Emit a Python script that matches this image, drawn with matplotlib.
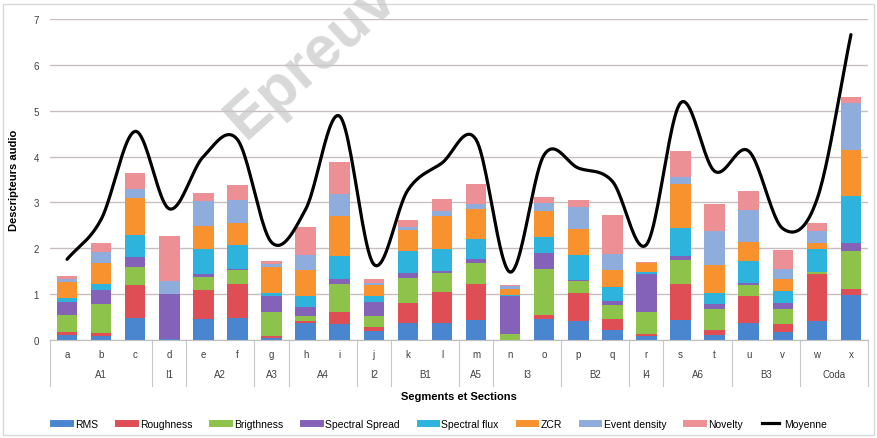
import numpy as np
import matplotlib
matplotlib.use('Agg')
import matplotlib.pyplot as plt
from matplotlib.lines import Line2D
from matplotlib.patches import Rectangle

plt.rcParams['font.family'] = ['Liberation Sans Narrow', 'Liberation Sans', 'DejaVu Sans']

segments = list('abcdefghijklmnopqrstuvwx')
sections = ['A1', 'I1', 'A2', 'A3', 'A4', 'I2', 'B1', 'A5', 'I3', 'B2', 'I4', 'A6', 'B3', 'Coda']
section_sizes = [3, 1, 2, 1, 2, 1, 2, 1, 2, 2, 1, 2, 2, 2]

rms        = [0.10, 0.08, 0.47, 0.02, 0.45, 0.47, 0.05, 0.38, 0.35, 0.20, 0.38, 0.38, 0.44, 0.01, 0.46, 0.41, 0.22, 0.09, 0.44, 0.10, 0.36, 0.18, 0.41, 0.99]
roughness  = [0.07, 0.07, 0.73, 0.00, 0.63, 0.75, 0.03, 0.03, 0.25, 0.08, 0.42, 0.67, 0.79, 0.00, 0.08, 0.61, 0.24, 0.03, 0.79, 0.12, 0.61, 0.16, 1.02, 0.13]
brigthness = [0.38, 0.63, 0.40, 0.00, 0.29, 0.31, 0.52, 0.12, 0.62, 0.25, 0.56, 0.41, 0.46, 0.11, 1.00, 0.27, 0.30, 0.50, 0.51, 0.45, 0.22, 0.33, 0.05, 0.82]
spread     = [0.28, 0.30, 0.20, 0.98, 0.08, 0.02, 0.37, 0.18, 0.12, 0.30, 0.10, 0.05, 0.07, 0.84, 0.36, 0.02, 0.09, 0.81, 0.10, 0.12, 0.06, 0.14, 0.00, 0.18]
flux       = [0.08, 0.14, 0.50, 0.00, 0.53, 0.52, 0.06, 0.25, 0.49, 0.13, 0.47, 0.48, 0.45, 0.03, 0.35, 0.55, 0.31, 0.05, 0.60, 0.23, 0.47, 0.26, 0.51, 1.03]
zcr        = [0.36, 0.46, 0.80, 0.00, 0.50, 0.48, 0.57, 0.56, 0.87, 0.23, 0.46, 0.71, 0.65, 0.12, 0.56, 0.57, 0.37, 0.20, 0.97, 0.61, 0.42, 0.27, 0.13, 1.00]
event      = [0.05, 0.24, 0.20, 0.28, 0.55, 0.50, 0.05, 0.33, 0.49, 0.05, 0.08, 0.11, 0.10, 0.07, 0.18, 0.47, 0.34, 0.00, 0.14, 0.74, 0.69, 0.20, 0.25, 1.01]
novelty    = [0.08, 0.20, 0.35, 0.98, 0.17, 0.33, 0.07, 0.62, 0.69, 0.10, 0.14, 0.26, 0.45, 0.02, 0.13, 0.15, 0.85, 0.02, 0.57, 0.60, 0.43, 0.42, 0.19, 0.14]
moyenne    = [1.76, 2.63, 4.55, 2.86, 4.00, 4.37, 2.13, 2.85, 4.88, 1.65, 3.27, 3.86, 4.37, 1.48, 4.04, 3.75, 3.46, 2.08, 5.17, 3.68, 4.12, 2.43, 3.06, 6.66]

series = [
    ('RMS', rms, '#4A86D0'),
    ('Roughness', roughness, '#DF4E55'),
    ('Brigthness', brigthness, '#8DC34A'),
    ('Spectral Spread', spread, '#8462B8'),
    ('Spectral flux', flux, '#2DB3DC'),
    ('ZCR', zcr, '#F7922E'),
    ('Event density', event, '#8EACDC'),
    ('Novelty', novelty, '#EC9096'),
]


def catmull_rom(x, y, n=24):
    # smooth curve through the points, like Excel's smoothed line
    x = np.asarray(x, float)
    y = np.asarray(y, float)
    px = np.concatenate([[2 * x[0] - x[1]], x, [2 * x[-1] - x[-2]]])
    py = np.concatenate([[2 * y[0] - y[1]], y, [2 * y[-1] - y[-2]]])
    xs, ys = [], []
    t = np.linspace(0, 1, n, endpoint=False)
    for i in range(1, len(px) - 2):
        for p, out in ((px, xs), (py, ys)):
            p0, p1, p2, p3 = p[i - 1], p[i], p[i + 1], p[i + 2]
            out.append(0.5 * (2 * p1 + (-p0 + p2) * t
                              + (2 * p0 - 5 * p1 + 4 * p2 - p3) * t ** 2
                              + (-p0 + 3 * p1 - 3 * p2 + p3) * t ** 3))
    xs.append([x[-1]])
    ys.append([y[-1]])
    return np.concatenate(xs), np.concatenate(ys)


fig = plt.figure(figsize=(8.77, 4.39), dpi=100)
ax = fig.add_axes([50 / 877, 98 / 439, 818 / 877, 321 / 439])

x = np.arange(len(segments))
bottom = np.zeros(len(segments))
for name, vals, col in series:
    ax.bar(x, vals, 0.6, bottom=bottom, color=col, label=name, zorder=2)
    bottom += np.array(vals)

sx, sy = catmull_rom(x, moyenne)
ax.plot(sx, sy, color='black', lw=2.3, zorder=4, solid_capstyle='round')

ax.set_xlim(-0.5, len(segments) - 0.5)
ax.set_ylim(0, 7)
ax.set_yticks(range(8))
ax.tick_params(axis='y', length=0, labelsize=7, pad=8, colors='#404040')
ax.set_xticks([])
ax.yaxis.grid(True, color='#C9BEBE', lw=1)
ax.set_axisbelow(True)
for s in ['top', 'right', 'left']:
    ax.spines[s].set_visible(False)
ax.spines['bottom'].set_color('#BFBFBF')
ax.set_ylabel('Descripteurs audio', fontsize=8, fontweight='bold', labelpad=10)

# two level category axis
tr = ax.get_xaxis_transform()
for i, seg in enumerate(segments):
    ax.text(i, -0.044, seg, transform=tr, ha='center', va='center', fontsize=7, color='#404040')
start = 0
edges = [0]
for name, size in zip(sections, section_sizes):
    ax.text(start + (size - 1) / 2, -0.107, name, transform=tr, ha='center', va='center',
            fontsize=7, color='#404040')
    start += size
    edges.append(start)
for e in edges:
    ax.plot([e - 0.5, e - 0.5], [0, -0.143], transform=tr, color='#C8C8C8', lw=0.8, clip_on=False)

ax.text(0.5, -0.16, 'Segments et Sections', transform=ax.transAxes, ha='center', va='top',
        fontsize=8, fontweight='bold')

handles = [Line2D([], [], color=c, lw=5) for _, _, c in series]
handles.append(Line2D([], [], color='black', lw=2.3))
labels = [n for n, _, _ in series] + ['Moyenne']
fig.legend(handles, labels, loc='center', bbox_to_anchor=(0.502, 0.032), ncol=9,
           frameon=False, fontsize=7.5, handlelength=1.6, handletextpad=0.5, columnspacing=1.9)

fig.text(0.37, 0.89, 'Epreuve', rotation=42, fontsize=44, fontweight='bold', color='#C8C8C8',
         alpha=0.7, ha='center', va='center', zorder=10)

fig.patches.append(Rectangle((3 / 877, 3 / 439), 871 / 877, 431 / 439, transform=fig.transFigure,
                             fill=False, edgecolor='#D9D9D9', lw=1))

fig.savefig('out.png', dpi=100)
